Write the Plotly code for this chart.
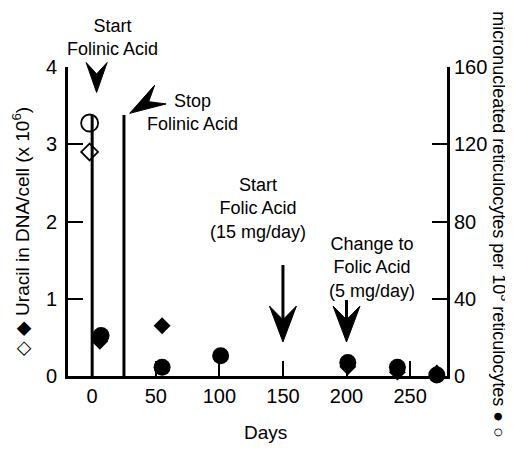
import math
import plotly.graph_objects as go

# ---- data ----
x_ticks = [0, 50, 100, 150, 200, 250]
y_left_ticks = [0, 1, 2, 3, 4]
y_right_ticks = [0, 40, 80, 120, 160]

uracil_pre_days = [-2]
uracil_pre = [2.9]
mn_pre_days = [-2]
mn_pre = [131]

uracil_days = [6, 55, 201, 240, 271]
uracil = [0.45, 0.65, 0.12, 0.05, 0.04]

mn_days = [7, 55, 101, 201, 240, 271]
mn = [21, 4.5, 10.5, 7, 4.5, 0.5]

# treatment event lines (day, height on left axis)
event_days = [0, 25]
event_top = 3.38

X_RANGE = [-19, 279]
Y_RANGE = [0, 4]
Y2_RANGE = [0, 160]

FONT = "Liberation Sans, Arial, Helvetica, sans-serif"

# plot area geometry (pixels)
PLOT_W = 379
PLOT_H = 309


def to_paper(day, val):
    return ((day - X_RANGE[0]) / (X_RANGE[1] - X_RANGE[0]),
            (val - Y_RANGE[0]) / (Y_RANGE[1] - Y_RANGE[0]))


def arrow_shapes(day, val, ux, uy, L, W, shaft=0.0):
    """Filled barbed arrowhead with tip at (day, val); (ux, uy) = screen direction."""
    n = math.hypot(ux, uy)
    ux, uy = ux / n, uy / n
    bx, by = -ux, -uy
    px, py = -uy, ux
    tx, ty = to_paper(day, val)

    def pt(ox, oy):
        return tx + ox / PLOT_W, ty - oy / PLOT_H

    pts = [pt(0, 0),
           pt(bx * L + px * W / 2, by * L + py * W / 2),
           pt(bx * 0.62 * L, by * 0.62 * L),
           pt(bx * L - px * W / 2, by * L - py * W / 2)]
    path = "M " + " L ".join(f"{a:.5f},{b:.5f}" for a, b in pts) + " Z"
    out = [dict(type="path", xref="paper", yref="paper", path=path,
                fillcolor="black", line=dict(color="black", width=1))]
    if shaft > 0:
        s0 = pt(bx * 0.62 * L, by * 0.62 * L)
        s1 = pt(bx * shaft, by * shaft)
        out.append(dict(type="line", xref="paper", yref="paper",
                        x0=s0[0], y0=s0[1], x1=s1[0], y1=s1[1],
                        line=dict(color="black", width=3)))
    return out


fig = go.Figure()

fig.add_trace(go.Scatter(x=uracil_pre_days, y=uracil_pre, mode="markers",
                         marker=dict(symbol="diamond-open", size=13, color="black",
                                     line=dict(width=1.8, color="black")),
                         cliponaxis=False, showlegend=False))
fig.add_trace(go.Scatter(x=uracil_days, y=uracil, mode="markers",
                         marker=dict(symbol="diamond", size=13, color="black"),
                         cliponaxis=False, showlegend=False))
fig.add_trace(go.Scatter(x=mn_pre_days, y=mn_pre, mode="markers", yaxis="y2",
                         marker=dict(symbol="circle-open", size=17, color="black",
                                     line=dict(width=1.8, color="black")),
                         cliponaxis=False, showlegend=False))
fig.add_trace(go.Scatter(x=mn_days, y=mn, mode="markers", yaxis="y2",
                         marker=dict(symbol="circle", size=17, color="black"),
                         cliponaxis=False, showlegend=False))

shapes = []
for d in event_days:
    shapes.append(dict(type="line", xref="x", yref="y", x0=d, x1=d, y0=0, y1=event_top,
                       line=dict(color="black", width=3)))

# arrows (tip positions in data units, direction in screen pixels)
shapes += arrow_shapes(3.5, 3.67, 0, 1, 30, 21)
shapes += arrow_shapes(29.5, 3.40, -31, 19, 36, 22)
shapes += arrow_shapes(150, 0.44, 0, 1, 36, 27, shaft=77)
shapes += arrow_shapes(200, 0.44, 0, 1, 36, 27, shaft=42)

txt = dict(showarrow=False, align="center", xanchor="center", yanchor="middle",
           font=dict(family=FONT, size=18, color="black"))
fig.add_annotation(x=0.118, y=1.094, xref="paper", yref="paper",
                   text="Start<br>Folinic Acid", **txt)
fig.add_annotation(x=79, y=3.415, xref="x", yref="y", text="Stop<br>Folinic Acid", **txt)
fig.add_annotation(x=130, y=2.17, xref="x", yref="y",
                   text="Start<br>Folic Acid<br>(15 mg/day)", **txt)
fig.add_annotation(x=220, y=1.40, xref="x", yref="y",
                   text="Change to<br>Folic Acid<br>(5 mg/day)", **txt)

# axis titles
fig.add_annotation(x=0.522, y=-0.184, xref="paper", yref="paper", showarrow=False,
                   xanchor="center", yanchor="middle",
                   text="Days", font=dict(family=FONT, size=19, color="black"))
fig.add_annotation(x=-0.123, y=0.469, xref="paper", yref="paper", showarrow=False,
                   xanchor="center", yanchor="middle", textangle=-90,
                   text="\u25c7 \u25c6 Uracil in DNA/cell (x 10<sup>6</sup>)",
                   font=dict(family=FONT, size=19, color="black"))
fig.add_annotation(x=1.141, y=0.49, xref="paper", yref="paper", showarrow=False,
                   xanchor="center", yanchor="middle", textangle=90,
                   text="micronucleated reticulocytes per 10<sup>3</sup> reticulocytes \u25cf \u25cb",
                   font=dict(family=FONT, size=18, color="black"))

axis_common = dict(showgrid=False, zeroline=False, showline=True, linecolor="black",
                   linewidth=3, ticks="inside", ticklen=15, tickwidth=1.5,
                   tickcolor="black", tickfont=dict(family=FONT, size=20, color="black"))

# the page body has an 8px margin, so the figure is shifted by 8px
fig.update_layout(
    width=505, height=445, autosize=False,
    margin=dict(l=60, r=66, t=59, b=77),
    paper_bgcolor="white", plot_bgcolor="white",
    xaxis=dict(range=X_RANGE, tickvals=x_ticks, **axis_common),
    yaxis=dict(range=Y_RANGE, tickvals=y_left_ticks, ticklabelstandoff=4, **axis_common),
    yaxis2=dict(range=Y2_RANGE, tickvals=y_right_ticks, overlaying="y", side="right",
                **axis_common),
    shapes=shapes,
    showlegend=False,
)

fig.write_html("out.html")
